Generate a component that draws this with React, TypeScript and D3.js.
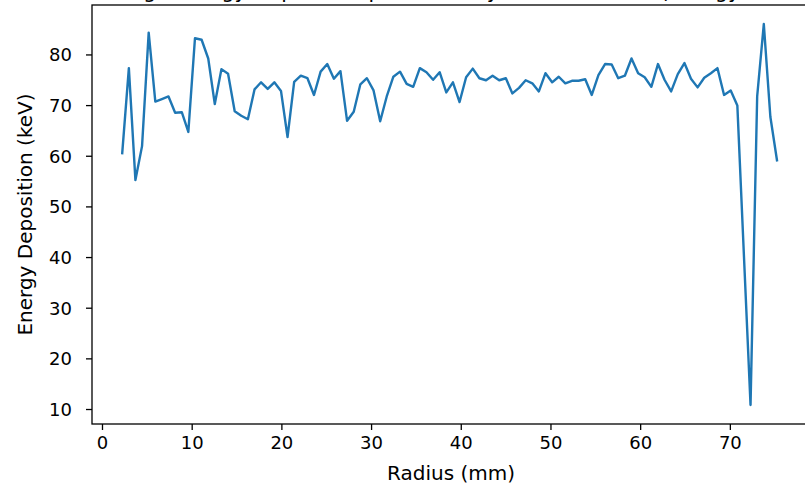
import React, { useEffect } from 'react';
import * as d3 from 'd3';

const RADIUS = [
  2.20, 2.94, 3.67, 4.41, 5.15, 5.89, 6.62, 7.36, 8.10, 8.84,
  9.57, 10.31, 11.05, 11.79, 12.52, 13.26, 14.00, 14.74, 15.47, 16.21,
  16.95, 17.68, 18.42, 19.16, 19.90, 20.63, 21.37, 22.11, 22.85, 23.58,
  24.32, 25.06, 25.80, 26.53, 27.27, 28.01, 28.75, 29.48, 30.22, 30.96,
  31.69, 32.43, 33.17, 33.91, 34.64, 35.38, 36.12, 36.86, 37.59, 38.33,
  39.07, 39.81, 40.54, 41.28, 42.02, 42.76, 43.49, 44.23, 44.97, 45.70,
  46.44, 47.18, 47.92, 48.65, 49.39, 50.13, 50.87, 51.60, 52.34, 53.08,
  53.82, 54.55, 55.29, 56.03, 56.77, 57.50, 58.24, 58.98, 59.72, 60.45,
  61.19, 61.93, 62.66, 63.40, 64.14, 64.88, 65.61, 66.35, 67.09, 67.83,
  68.56, 69.30, 70.04, 70.78, 71.51, 72.25, 72.99, 73.73, 74.46, 75.20,
];

const ENERGY = [
  60.6, 77.4, 55.3, 62.0, 84.4, 70.8, 71.3, 71.8, 68.6, 68.7,
  64.8, 83.3, 83.0, 79.3, 70.3, 77.2, 76.3, 68.9, 68.0, 67.3,
  73.2, 74.6, 73.3, 74.6, 72.9, 63.8, 74.7, 75.9, 75.4, 72.1,
  76.7, 78.2, 75.3, 76.8, 67.0, 68.8, 74.2, 75.4, 73.0, 66.9,
  71.8, 75.7, 76.7, 74.3, 73.7, 77.4, 76.6, 75.1, 76.6, 72.6,
  74.6, 70.7, 75.6, 77.3, 75.4, 75.0, 75.9, 75.0, 75.4, 72.4,
  73.5, 75.0, 74.4, 72.8, 76.4, 74.6, 75.7, 74.4, 74.9, 74.9,
  75.2, 72.1, 76.0, 78.2, 78.1, 75.4, 75.9, 79.3, 76.4, 75.6,
  73.7, 78.2, 75.1, 72.8, 76.2, 78.4, 75.3, 73.6, 75.5, 76.4,
  77.4, 72.1, 73.0, 70.0, 40.5, 10.9, 71.8, 86.1, 67.8, 59.2,
];

const X_TICKS = [0, 10, 20, 30, 40, 50, 60, 70];
const Y_TICKS = [10, 20, 30, 40, 50, 60, 70, 80];
const TITLE = 'Average Energy Deposition per Event by Radial Position (Energy in keV)';
const X_LABEL = 'Radius (mm)';
const Y_LABEL = 'Energy Deposition (keV)';

const FONT = '"DejaVu Sans", sans-serif';

export default function App() {
  useEffect(() => {
    document.body.style.margin = '0';
  }, []);

  const W = 805;
  const H = 488;
  const left = 92;
  const right = 810;
  const top = 5;
  const bottom = 424;

  const x = d3.scaleLinear().domain([-1.17, 78.88]).range([left, right]);
  const y = d3.scaleLinear().domain([7.14, 89.86]).range([bottom, top]);

  const data = RADIUS.map((r, i) => [r, ENERGY[i]] as [number, number]);
  const path = d3
    .line<[number, number]>()
    .x((d) => x(d[0]))
    .y((d) => y(d[1]))(data) || '';

  const tickLen = 6;
  const fs = 18;
  const labelFs = 20;

  return (
    <svg
      width={W}
      height={H}
      style={{ position: 'absolute', left: 0, top: 0, display: 'block', background: '#fff' }}
      fontFamily={FONT}
    >
      <rect x={0} y={0} width={W} height={H} fill="#fff" />
      <text x={(left + right) / 2} y={-2} fontSize={20.4} textAnchor="middle" fill="#000">
        {TITLE}
      </text>
      <defs>
        <clipPath id="plotclip">
          <rect x={left} y={top} width={right - left} height={bottom - top} />
        </clipPath>
      </defs>
      <path
        d={path}
        fill="none"
        stroke="#1f77b4"
        strokeWidth={2.4}
        strokeLinejoin="round"
        strokeLinecap="square"
        clipPath="url(#plotclip)"
      />
      <rect x={left} y={top} width={right - left} height={bottom - top} fill="none" stroke="#000" strokeWidth={1.3} />
      {X_TICKS.map((t) => (
        <g key={'x' + t}>
          <line x1={x(t)} x2={x(t)} y1={bottom} y2={bottom + tickLen} stroke="#000" strokeWidth={1.3} />
          <text x={x(t)} y={bottom + tickLen + 6 + 13.2} fontSize={fs} textAnchor="middle" fill="#000">
            {t}
          </text>
        </g>
      ))}
      {Y_TICKS.map((t) => (
        <g key={'y' + t}>
          <line x1={left - tickLen} x2={left} y1={y(t)} y2={y(t)} stroke="#000" strokeWidth={1.3} />
          <text x={left - tickLen - 14} y={y(t)} dy="0.36em" fontSize={fs} textAnchor="end" fill="#000">
            {t}
          </text>
        </g>
      ))}
      <text x={(left + right) / 2} y={480} fontSize={labelFs} textAnchor="middle" fill="#000">
        {X_LABEL}
      </text>
      <text
        transform={`translate(${32},${(top + bottom) / 2}) rotate(-90)`}
        fontSize={labelFs}
        textAnchor="middle"
        fill="#000"
      >
        {Y_LABEL}
      </text>
    </svg>
  );
}
